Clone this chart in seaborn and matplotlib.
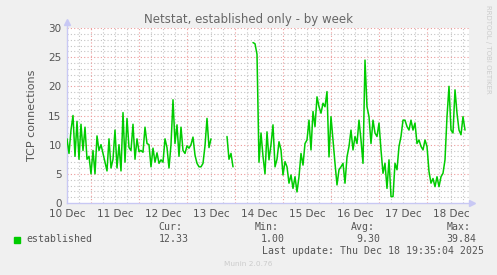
import numpy as np
import pandas as pd
import matplotlib
matplotlib.use("Agg")
import matplotlib.pyplot as plt
import seaborn as sns

# ---- data (hourly samples, hour 0 = 10 Dec label position) ----
N = None
conn_values = [
    11, 8.5, 12.5, 15, 8, 14, 7.5, 13.5, 9, 13, 7.5, 8, 5, 9, 5, 11.5, 9, 10, 8.5, 7,
    5.5, 11, 6, 7.5, 12.5, 6, 10, 5.5, 15.5, 7, 14.5, 9.5, 9, 13.5, 7.5, 11,
    8.8, 9, 8.7, 13, 10.2, 10, 6.2, 9.4, 7, 8.6, 6.8, 7.4, 7, 11, 9.5, 6, 10, 17.7,
    10.2, 13.4, 8, 13, 9, 8.5, 9.8, 9.4, 10, 11.3, 8.2, 6.8, 6.2, 6.2, 6.8, 9.8,
    14.5, 9.5, 11,
    N, N, N, N, N, N, N,
    11.4, 7.5, 8.5, 6.2,
    N, N, N, N, N, N, N, N, N,
    27.5, 27.3, 25.5, 7, 12, 8, 5, 12.2, 7.4, 10, 13.4, 6.2, 7.5, 10.5,
    9.1, 4.8, 7.1, 6.2, 3.4, 4.8, 2.5, 4.5, 1.9, 4.5, 8.5, 6.5, 10.2, 10.8, 14.2,
    9.1, 15.7, 13.1, 18.2, 16.5, 15.4, 17.1, 16.5, 19.1, 7.9, 14.8, 10.8, 6.8, 3.1,
    5.7, 6.2, 6.8, 3.4, 7.9, 9.7, 12.5, 9.1, 11.4, 10.2, 14.2, 10.8, 6.8, 24.5, 16.5,
    14.8, 10.2, 14.2, 12, 11.4, 13.7, 9.1, 5.1, 6.8, 2.5, 7.4, 1.1, 1.1, 6.8, 5.7,
    9.7, 11.4, 14.2, 14.2, 13.1, 12.5, 14.2, 12.5, 13.7, 10.2, 10.8, 9.7, 9.1, 10.8,
    9.7, 5.4, 3.4, 4.2, 2.8, 4.5, 2.8, 4.5, 5.1, 7.4, 14.8, 20, 12.5, 12, 19.4, 15.4,
    12.5, 11.7, 14.8, 12.5,
]
day_labels = ["10 Dec", "11 Dec", "12 Dec", "13 Dec", "14 Dec", "15 Dec",
              "16 Dec", "17 Dec", "18 Dec"]
y_ticks = [0, 5, 10, 15, 20, 25, 30]
legend_name = "established"
stat_labels = ["Cur:", "Min:", "Avg:", "Max:"]
stat_values = ["12.33", "1.00", "9.30", "39.84"]
last_update = "Last update: Thu Dec 18 19:35:04 2025"

# ---- build frame with segments for gaps ----
vals = np.array([np.nan if v is None else v for v in conn_values], dtype=float)
hours = np.arange(len(vals))
seg = np.cumsum(np.isnan(vals))
df = pd.DataFrame({"day": hours / 24.0, "conn": vals, "seg": seg}).dropna()

sns.set_theme(style="white")
plt.rcParams["font.family"] = ["DejaVu Sans"]

W, H = 497, 275
fig = plt.figure(figsize=(W / 100, H / 100), dpi=100, facecolor="#F0F0F0")
x0, x1, ytop, ybot = 67, 469, 28, 203
ax = fig.add_axes([x0 / W, 1 - ybot / H, (x1 - x0) / W, (ybot - ytop) / H])
ax.set_facecolor("white")

xmax = 201 / 24.0
ax.set_xlim(0, xmax)
ax.set_ylim(0, 30)

# grid
minor_col = "#C4C4C4"
major_col = "#EC9A9A"
dots = (0, (1, 2))
for yv in range(1, 31):
    ax.axhline(yv, color=major_col if yv % 5 == 0 else minor_col,
               lw=0.8, ls=dots, zorder=0)
for q in np.arange(0.25, xmax, 0.25):
    is_major = abs((q - 0.5) % 1.0) < 1e-6
    ax.axvline(q, color=major_col if is_major else minor_col,
               lw=0.8, ls=dots, zorder=0)

sns.lineplot(data=df, x="day", y="conn", units="seg", estimator=None,
             color="#00CC00", lw=1.1, ax=ax, zorder=3, legend=False)

ax.set_xticks(range(len(day_labels)))
ax.set_xticklabels(day_labels)
ax.set_yticks(y_ticks)
ax.tick_params(axis="both", length=0, labelsize=7.5, labelcolor="#555555")
ax.tick_params(axis="x", pad=4.5)
ax.tick_params(axis="y", pad=4)
ax.set_xlabel("")
ax.set_ylabel("TCP connections", fontsize=8, color="#555555", labelpad=8)

for s in ["top", "right"]:
    ax.spines[s].set_visible(False)
for s in ["left", "bottom"]:
    ax.spines[s].set_color("#C8C8F4")
    ax.spines[s].set_linewidth(1.0)
ax.plot([0], [31.0], marker="^", ms=4, color="#C8C8F4", clip_on=False, zorder=4)
ax.plot([xmax + 0.06], [0], marker=">", ms=4, color="#C8C8F4", clip_on=False, zorder=4)
ax.plot([0, 0], [30, 31], color="#C8C8F4", lw=1, clip_on=False)

# title & texts (figure pixel coords from top)
def ft(x, y, s, **kw):
    fig.text(x / W, 1 - y / H, s, **kw)

ft(248.5, 19, "Netstat, established only - by week", ha="center", va="center",
   fontsize=8.5, color="#666666")
ft(488, 5, "RRDTOOL / TOBI OETIKER", ha="center", va="top", rotation=270,
   fontsize=5, color="#CCCCCC")

mono = dict(family="DejaVu Sans Mono", fontsize=7.1, color="#555555", va="center")
fig.patches.append(plt.Rectangle((14 / W, 1 - 243 / H), 6 / W, 6 / H,
                                 transform=fig.transFigure, color="#00CC00"))
ft(26, 239.5, legend_name, ha="left", **mono)
lab_x = [158.7, 254.3, 351, 446.7]
val_x = [158.7, 260.7, 356.7, 446.7]
for lx, vx, l, v in zip(lab_x, val_x, stat_labels, stat_values):
    ft(lx, 227.5, l, ha="left", **mono)
    ft(vx, 239.5, v, ha="left", **mono)
ft(261.7, 251.5, last_update, ha="left", **mono)
ft(247.8, 264, "Munin 2.0.76", ha="center", va="center", fontsize=5.3,
   color="#CCCCCC")

fig.savefig("out.png", dpi=100, facecolor=fig.get_facecolor())
